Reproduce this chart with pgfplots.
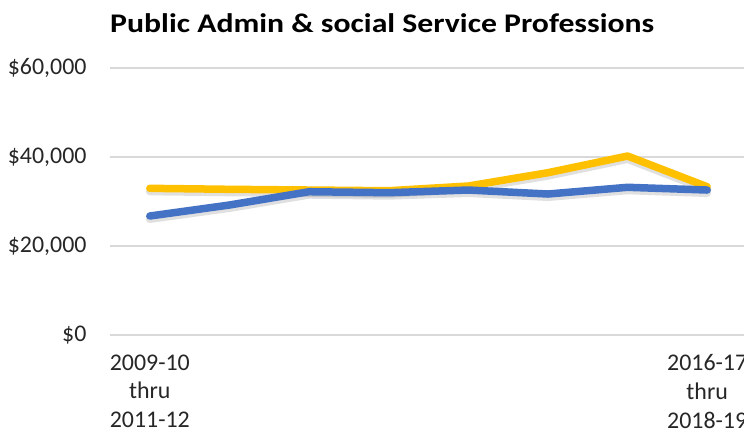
\documentclass[border=0pt]{standalone}
\usepackage{pgfplots}
\pgfplotsset{compat=1.18}
\usepackage{fontspec}
\setmainfont{Carlito}
\definecolor{ygold}{HTML}{FFC000}
\definecolor{xblue}{HTML}{4472C4}
\definecolor{gridgray}{HTML}{D9D9D9}
\begin{document}
\begin{tikzpicture}
\path[use as bounding box] (0,0) rectangle (744bp,436bp);
\node[anchor=base west, inner sep=0pt, xscale=1.18, font=\fontsize{27}{31}\selectfont\bfseries] at (110bp,403bp) {Public Admin \& social Service Professions};
\begin{axis}[
  at={(110bp,101bp)}, anchor=south west,
  scale only axis, width=637bp, height=267bp,
  xmin=-0.5, xmax=7.5, ymin=0, ymax=60000,
  axis line style={draw=none},
  major tick length=0pt,
  ymajorgrids, grid style={gridgray, line width=1.5bp},
  ytick={0,20000,40000,60000},
  yticklabels={\$0,{\$20,000},{\$40,000},{\$60,000}},
  xtick={0,7},
  xticklabels={{2009-10\\thru\\2011-12},{2016-17\\thru\\2018-19}},
  xticklabel style={align=center, font=\fontsize{24}{29}\selectfont, text=black!85, yshift=-16bp},
  yticklabel style={font=\fontsize{24}{28}\selectfont, text=black!85, xshift=-20bp},
  /pgf/number format/assume math mode=true,
  scaled y ticks=false,
  clip=false,
]
\addplot[draw=black, opacity=0.12, line width=8bp, line join=round, line cap=round, yshift=-3bp] coordinates {
(0,32960) (1,32740) (2,32580) (3,32420) (4,33480) (5,36470) (6,40220) (7,33320)};
\addplot[draw=black, opacity=0.12, line width=8bp, line join=round, line cap=round, yshift=-3bp] coordinates {
(0,26740) (1,29210) (2,32200) (3,31980) (4,32580) (5,31680) (6,33190) (7,32580)};
\addplot[draw=ygold, line width=7.5bp, line join=round, line cap=round] coordinates {
(0,32960) (1,32740) (2,32580) (3,32420) (4,33480) (5,36470) (6,40220) (7,33320)};
\addplot[draw=xblue, line width=7.5bp, line join=round, line cap=round] coordinates {
(0,26740) (1,29210) (2,32200) (3,31980) (4,32580) (5,31680) (6,33190) (7,32580)};
\end{axis}
\end{tikzpicture}
\end{document}
